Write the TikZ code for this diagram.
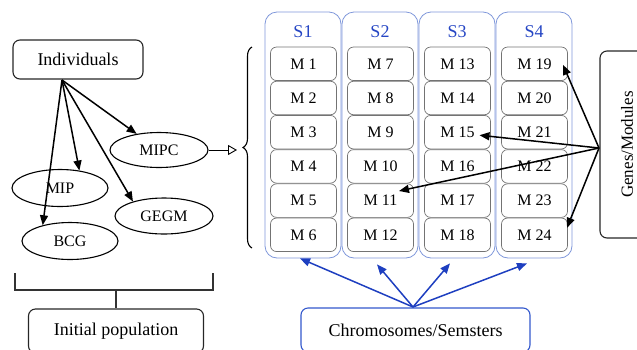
\documentclass[tikz,border=0pt]{standalone}
\usepackage{fontspec}
\setmainfont{Liberation Serif}
\usetikzlibrary{arrows.meta,shapes.geometric,decorations.pathreplacing}
\definecolor{colblue}{HTML}{7F97DA}
\definecolor{hdblue}{HTML}{2646C4}
\definecolor{arrblue}{HTML}{1E3FC0}
\definecolor{chblue}{HTML}{3358CC}
\begin{document}
\begin{tikzpicture}[x=1pt,y=-1pt,
 lbl/.style={font=\fontsize{16}{18}\selectfont},
 big/.style={font=\fontsize{18}{20}\selectfont},
 rbox/.style={draw=black!85, line width=1.1pt, rounded corners=7pt, inner sep=0pt},
 ell/.style={ellipse, draw, line width=1.1pt, inner sep=0pt, lbl},
 col/.style={draw=colblue, line width=0.8pt, rounded corners=12pt, minimum width=76pt, minimum height=246pt, inner sep=0pt},
 mbox/.style={draw=black!55, line width=0.7pt, rounded corners=6pt, minimum width=66pt, minimum height=33.5pt, inner sep=0pt, lbl},
 arr/.style={line width=1.5pt, -{Triangle[length=10pt,width=8pt]}},
 barr/.style={draw=arrblue, line width=1.5pt, -{Triangle[length=10pt,width=8pt]}}
]
\useasboundingbox (0,0) rectangle (637,349);

% left part
\node[rbox, big, minimum width=130pt, minimum height=39pt] (ind) at (78,59.5) {Individuals};
\node[ell, minimum width=98pt, minimum height=35pt] (mipc) at (159,150) {MIPC};
\node[ell, minimum width=96pt, minimum height=37pt] (mip) at (60,188) {MIP};
\node[ell, minimum width=98pt, minimum height=36pt] (gegm) at (164,216) {GEGM};
\node[ell, minimum width=96pt, minimum height=37pt] (bcg) at (70,241) {BCG};

\coordinate (src) at (62,80);
\draw[arr] (src) -- (mipc);
\draw[arr] (src) -- (mip.42);
\draw[arr] (src) -- (gegm.155);
\draw[arr] (src) -- (bcg.150);

\coordinate (hol) at (237,150);
\draw[line width=0.9pt, -{Triangle[open,length=9pt,width=10pt]}] (mipc.east) -- (hol);

\draw[decorate, decoration={brace, amplitude=9pt}, line width=1.1pt] (252,248) -- (252,47);

% semesters
\foreach \i/\x in {1/303,2/380,3/457,4/534} {
  \node[col] (s\i) at (\x,135) {};
  \node[big, text=hdblue] (h\i) at (\x,32) {S\i};
}
\foreach \c in {1,...,4} {
  \foreach \r in {1,...,6} {
    \pgfmathtruncatemacro{\n}{(\c-1)*6+\r}
    \pgfmathsetmacro{\mx}{303.5+77*(\c-1)}
    \pgfmathsetmacro{\my}{63.8+34.2*(\r-1)}
    \node[mbox] (m\n) at (\mx,\my) {M \n};
  }
}

% genes
\node[rbox, font=\fontsize{17}{19}\selectfont, rotate=90, minimum width=187pt, minimum height=54pt] (genes) at (627,144.5) {Genes/Modules};
\coordinate (gsrc) at (599,148);
\draw[arr] (gsrc) -- ([shift={(28.5,1)}]m19.center);
\draw[arr] (gsrc) -- ([shift={(22,3)}]m15.center);
\draw[arr] (gsrc) -- ([shift={(18.5,-9.6)}]m11.center);
\draw[arr] (gsrc) -- ([shift={(32.5,-7)}]m24.center);

% bottom
\draw[line width=1.1pt, black!80] (15,273) -- (15,290) -- (213,290) -- (213,273);
\coordinate (brk) at (116,290);
\node[rbox, big, minimum width=175pt, minimum height=44pt] (init) at (116,331) {Initial population};
\draw[line width=1.1pt, black!80] (brk) -- (init.north);

\node[rbox, draw=chblue, big, minimum width=229pt, minimum height=44pt] (chrom) at (415.5,330) {Chromosomes/Semsters};
\coordinate (csrc) at (413,307);
\draw[barr] (csrc) -- ([shift={(-3,0)}]s1.south);
\draw[barr] (csrc) -- ([shift={(-3,6)}]s2.south);
\draw[barr] (csrc) -- ([shift={(-7,5)}]s3.south);
\draw[barr] (csrc) -- ([shift={(-7,5)}]s4.south);
\end{tikzpicture}
\end{document}
